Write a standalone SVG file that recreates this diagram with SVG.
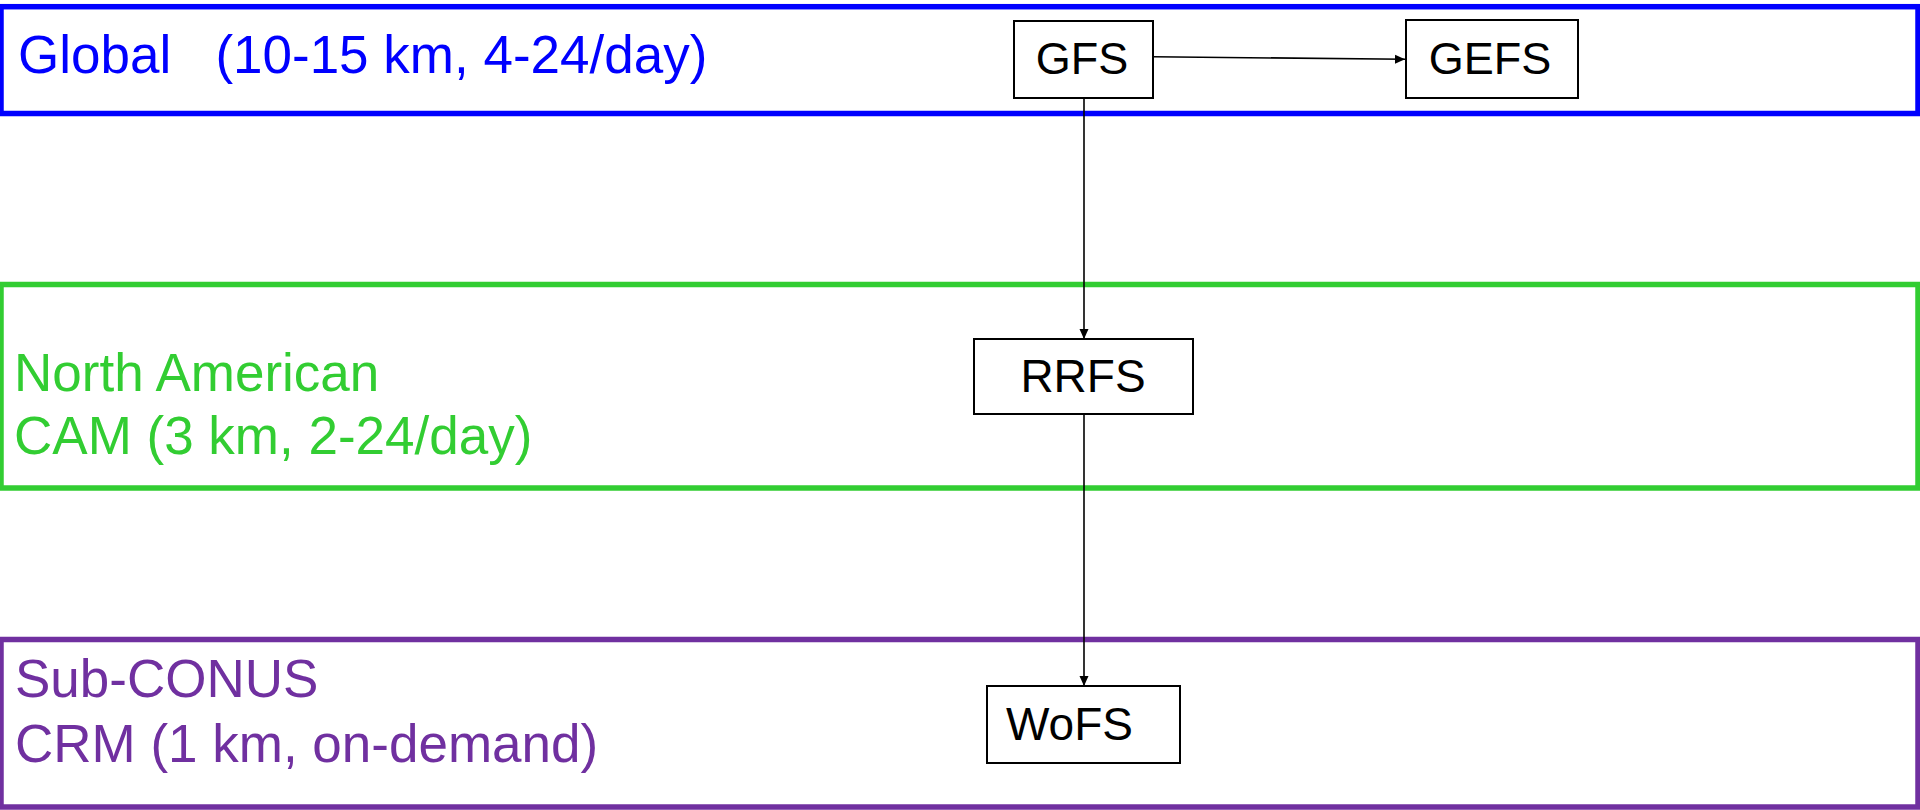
<svg xmlns="http://www.w3.org/2000/svg" width="1920" height="810" viewBox="0 0 1920 810">
  <style>
    .band { fill: none; stroke-width: 5.5; }
    .lbl { font-family: "Liberation Sans", Arial, sans-serif; font-size: 53px; }
    .node rect { fill: #ffffff; stroke: #000000; stroke-width: 2; }
    .node text { font-family: "Liberation Sans", Arial, sans-serif; font-size: 45px; fill: #000000; }
    .conn { stroke: #000000; stroke-width: 1.6; fill: none; marker-end: url(#arr); }
  </style>
  <defs>
    <marker id="arr" viewBox="0 0 10 10" refX="10" refY="5" markerWidth="10" markerHeight="10" markerUnits="userSpaceOnUse" orient="auto">
      <path d="M0,0.5 L10,5 L0,9.5 Z" fill="#000000"/>
    </marker>
  </defs>
  <rect width="1920" height="810" fill="#ffffff"/>

  <g id="band-global">
    <rect class="band" x="1" y="6.7" width="1917" height="106.8" stroke="#0000FF"/>
    <text class="lbl" x="18" y="73" fill="#0000FF" xml:space="preserve">Global   (10-15 km, 4-24/day)</text>
  </g>
  <g id="band-na">
    <rect class="band" x="1" y="284.5" width="1917" height="203.5" stroke="#32CD32"/>
    <text class="lbl" x="14" y="391" fill="#32CD32">North American</text>
    <text class="lbl" x="14" y="454" fill="#32CD32">CAM (3 km, 2-24/day)</text>
  </g>
  <g id="band-sub">
    <rect class="band" x="1" y="639.5" width="1917" height="167.5" stroke="#7030A0"/>
    <text class="lbl" x="15" y="697" fill="#7030A0">Sub-CONUS</text>
    <text class="lbl" x="15" y="762" fill="#7030A0">CRM (1 km, on-demand)</text>
  </g>

  <g id="connectors">
    <path class="conn" d="M1153,56.7 L1405,59.3"/>
    <path class="conn" d="M1084,98 L1084,339"/>
    <path class="conn" d="M1084,414 L1084,686"/>
  </g>

  <g id="node-gfs" class="node">
    <rect x="1014" y="21" width="139" height="77"/>
    <text x="1082" y="74" text-anchor="middle">GFS</text>
  </g>
  <g id="node-gefs" class="node">
    <rect x="1406" y="20" width="172" height="78"/>
    <text x="1490" y="74" text-anchor="middle">GEFS</text>
  </g>
  <g id="node-rrfs" class="node">
    <rect x="974" y="339" width="219" height="75"/>
    <text x="1083" y="392" text-anchor="middle" style="font-size:46px">RRFS</text>
  </g>
  <g id="node-wofs" class="node">
    <rect x="987" y="686" width="193" height="77"/>
    <text x="1006" y="740" style="font-size:46px">WoFS</text>
  </g>
</svg>
